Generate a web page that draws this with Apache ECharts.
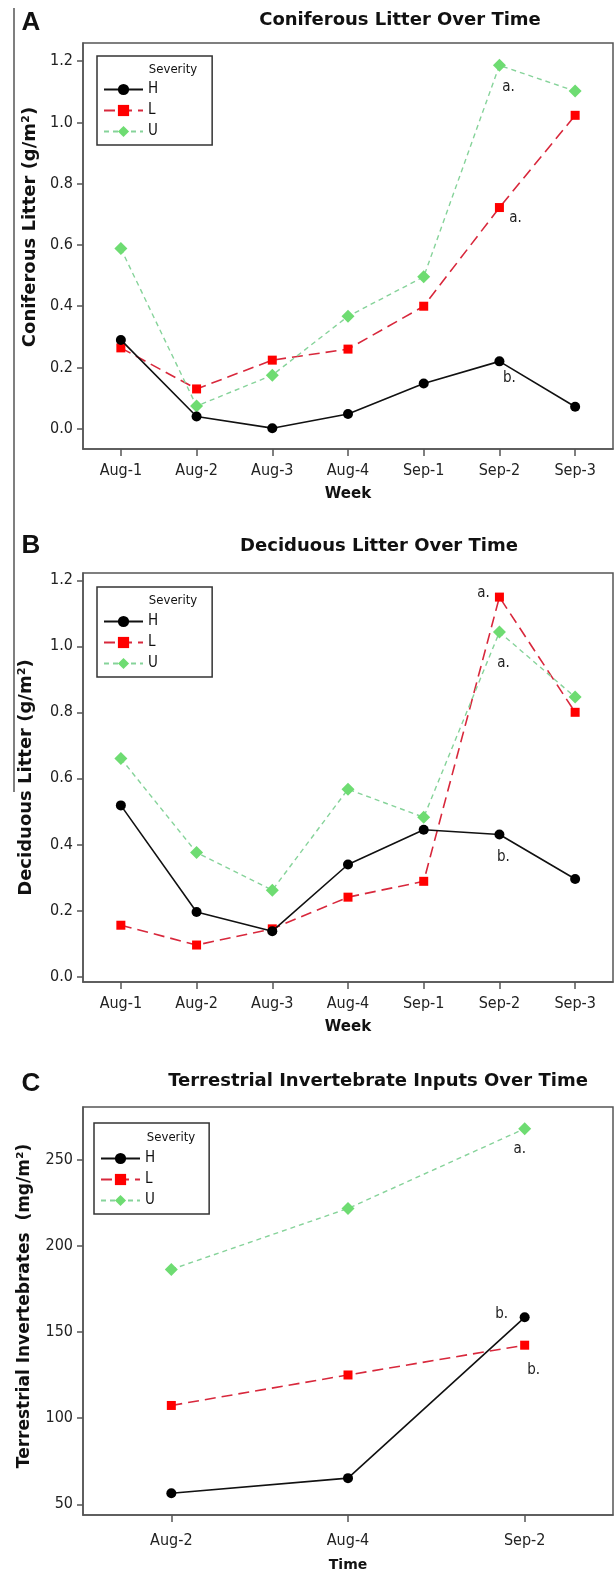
<!DOCTYPE html>
<html>
<head>
<meta charset="utf-8">
<script src="https://cdn.jsdelivr.net/npm/echarts@6/dist/echarts.min.js"></script>
<style>
html, body { margin: 0; padding: 0; background: #fff; }
#main { width: 616px; height: 1573px; }
</style>
</head>
<body>
<div id="main"></div>
<script>
// categories
var weeks = ['Aug-1', 'Aug-2', 'Aug-3', 'Aug-4', 'Sep-1', 'Sep-2', 'Sep-3'];
var invWeeks = ['Aug-2', 'Aug-4', 'Sep-2'];

// A: coniferous litter (g/m2)
var conifH = [0.29, 0.04, 0.002, 0.048, 0.148, 0.22, 0.072];
var conifL = [0.264, 0.13, 0.224, 0.26, 0.40, 0.722, 1.023];
var conifU = [0.588, 0.074, 0.175, 0.367, 0.496, 1.186, 1.102];

// B: deciduous litter (g/m2)
var decidH = [0.518, 0.195, 0.137, 0.339, 0.444, 0.430, 0.295];
var decidL = [0.155, 0.095, 0.144, 0.240, 0.288, 1.149, 0.80];
var decidU = [0.66, 0.375, 0.261, 0.567, 0.482, 1.043, 0.846];

// C: terrestrial invertebrates (mg/m2)
var invH = [56.4, 65.2, 158.6];
var invL = [107.4, 125.1, 142.4];
var invU = [186.4, 221.8, 268.1];

// tick labels
var litterTicks = [0, 0.2, 0.4, 0.6, 0.8, 1.0, 1.2];
var invTicks = [50, 100, 150, 200, 250];

// significance letters (on the Sep-2 point)
var conifLetters = { H: 'b.', L: 'a.', U: 'a.' };
var decidLetters = { H: 'b.', L: 'a.', U: 'a.' };
var invLetters = { H: 'b.', L: 'b.', U: 'a.' };

var severity = ['H', 'L', 'U'];

var condFont = "'DejaVu Sans Condensed', 'Liberation Sans Narrow', 'DejaVu Sans', sans-serif";
var boldFont = "'DejaVu Sans', sans-serif";

var looks = {
    H: { color: '#000000', line: '#111111', type: 'solid', symbol: 'circle', size: 10, width: 1.6 },
    L: { color: '#ff0000', line: '#d8283c', type: [11, 6], symbol: 'rect', size: 9, width: 1.6 },
    U: { color: '#6edc72', line: '#86d39a', type: [5, 4], symbol: 'diamond', size: 13, width: 1.4 }
};

// where each letter sits relative to its point
var noteOffsets = [
    { H: [10, 17], L: [16, 11], U: [9, 22] },
    { H: [4, 23], L: [-16, -4], U: [4, 31] },
    { H: [-23, -3], L: [9, 25], U: [-5, 20] }
];

var grids = [
    { left: 83, top: 43, width: 530, height: 406 },
    { left: 83, top: 573, width: 530, height: 409 },
    { left: 83, top: 1107, width: 530, height: 416 }
];

var panels = [
    { cats: weeks, data: { H: conifH, L: conifL, U: conifU }, letters: conifLetters, noteIdx: 5 },
    { cats: weeks, data: { H: decidH, L: decidL, U: decidU }, letters: decidLetters, noteIdx: 5 },
    { cats: invWeeks, data: { H: invH, L: invL, U: invU }, letters: invLetters, noteIdx: 2 }
];

function buildData(values, noteIdx, letter, offset) {
    return values.map(function (v, i) {
        if (i === noteIdx && letter) {
            return {
                value: v,
                label: {
                    show: true, formatter: letter, position: 'inside', offset: offset,
                    color: '#222', fontSize: 15, fontFamily: condFont
                }
            };
        }
        return v;
    });
}

var series = [];
panels.forEach(function (p, gi) {
    severity.forEach(function (s) {
        var lk = looks[s];
        series.push({
            name: s,
            type: 'line',
            xAxisIndex: gi,
            yAxisIndex: gi,
            symbol: lk.symbol,
            symbolSize: lk.size,
            z: s === 'H' ? 4 : 3,
            itemStyle: { color: lk.color },
            lineStyle: { color: lk.line, type: lk.type, width: lk.width },
            emphasis: { disabled: true },
            data: buildData(p.data[s], p.noteIdx, p.letters[s], noteOffsets[gi][s])
        });
    });
});

function xAxisFor(gi, cats, name, gap, nameSize, labelMargin) {
    return {
        type: 'category',
        gridIndex: gi,
        data: cats,
        boundaryGap: true,
        name: name,
        nameLocation: 'middle',
        nameGap: gap,
        nameTextStyle: { fontFamily: boldFont, fontWeight: 'bold', fontSize: nameSize, color: '#111' },
        axisLine: { show: true, onZero: false, lineStyle: { color: '#555', width: 1.5 } },
        axisTick: { show: true, alignWithLabel: true, length: 7, lineStyle: { color: '#555', width: 1.5 } },
        axisLabel: { margin: labelMargin, color: '#222', fontSize: 16, fontFamily: condFont },
        splitLine: { show: false }
    };
}

function yAxisFor(gi, min, max, ticks, fmt, name, gap, nameSize, namePad) {
    return {
        type: 'value',
        gridIndex: gi,
        min: min,
        max: max,
        name: name,
        nameLocation: 'middle',
        nameRotate: 90,
        nameGap: gap,
        nameTextStyle: { fontFamily: boldFont, fontWeight: 'bold', fontSize: nameSize, color: '#111', padding: namePad },
        axisLine: { show: true, lineStyle: { color: '#555', width: 1.5 } },
        axisTick: { show: true, length: 6, customValues: ticks, lineStyle: { color: '#555', width: 1.5 } },
        axisLabel: { customValues: ticks, formatter: fmt, margin: 10, color: '#222', fontSize: 16, fontFamily: condFont },
        splitLine: { show: false }
    };
}

function oneDec(v) { return v.toFixed(1); }
function noDec(v) { return String(Math.round(v)); }

function legendFor(left, top, padTop) {
    return {
        orient: 'vertical',
        left: left,
        top: top,
        data: severity,
        selectedMode: false,
        itemWidth: 39,
        itemHeight: 14,
        itemGap: 6,
        padding: [padTop, 54, 6, 6],
        borderColor: '#333',
        borderWidth: 1.5,
        textStyle: { fontSize: 15, color: '#111', fontFamily: condFont }
    };
}

function textEl(txt, x, y, font) {
    return {
        type: 'text',
        x: x,
        y: y,
        style: {
            text: txt, font: font, fill: '#111',
            align: 'center', verticalAlign: 'middle',
            textAlign: 'center', textVerticalAlign: 'middle'
        }
    };
}

var myChart = echarts.init(document.getElementById('main'));
var option = {
    backgroundColor: '#fff',
    animation: false,
    grid: grids.map(function (g) {
        return { left: g.left, top: g.top, width: g.width, height: g.height, show: true, borderColor: '#555', borderWidth: 1.5 };
    }),
    xAxis: [
        xAxisFor(0, weeks, 'Week', 38, 15, 14),
        xAxisFor(1, weeks, 'Week', 38, 15, 14),
        xAxisFor(2, invWeeks, 'Time', 43, 14, 18)
    ],
    yAxis: [
        yAxisFor(0, -0.066, 1.259, litterTicks, oneDec, 'Coniferous Litter (g/m²)', 44, 18, [0, 0, 0, 38]),
        yAxisFor(1, -0.017, 1.222, litterTicks, oneDec, 'Deciduous Litter (g/m²)', 48, 18, 0),
        yAxisFor(2, 43.8, 280.7, invTicks, noDec, 'Terrestrial Invertebrates  (mg/m²)', 50, 17, [0, 0, 0, 10])
    ],
    legend: [
        legendFor(97, 56, 26),
        legendFor(97, 587, 27),
        legendFor(94, 1123, 28)
    ],
    graphic: [
        { type: 'line', shape: { x1: 14, y1: 8, x2: 14, y2: 792 }, style: { stroke: '#555', lineWidth: 1.5 } },
        textEl('A', 31, 23, "bold 26px 'Liberation Sans', Arial, sans-serif"),
        textEl('B', 31, 546, "bold 26px 'Liberation Sans', Arial, sans-serif"),
        textEl('C', 31, 1084, "bold 26px 'Liberation Sans', Arial, sans-serif"),
        textEl('Coniferous Litter Over Time', 400, 20, "bold 18px 'DejaVu Sans', sans-serif"),
        textEl('Deciduous Litter Over Time', 379, 546, "bold 18px 'DejaVu Sans', sans-serif"),
        textEl('Terrestrial Invertebrate Inputs Over Time', 378, 1081, "bold 18px 'DejaVu Sans', sans-serif"),
        textEl('Severity', 173, 70, "13px " + condFont),
        textEl('Severity', 173, 601, "13px " + condFont),
        textEl('Severity', 171, 1138, "13px " + condFont)
    ],
    series: series
};
myChart.setOption(option);
</script>
</body>
</html>
